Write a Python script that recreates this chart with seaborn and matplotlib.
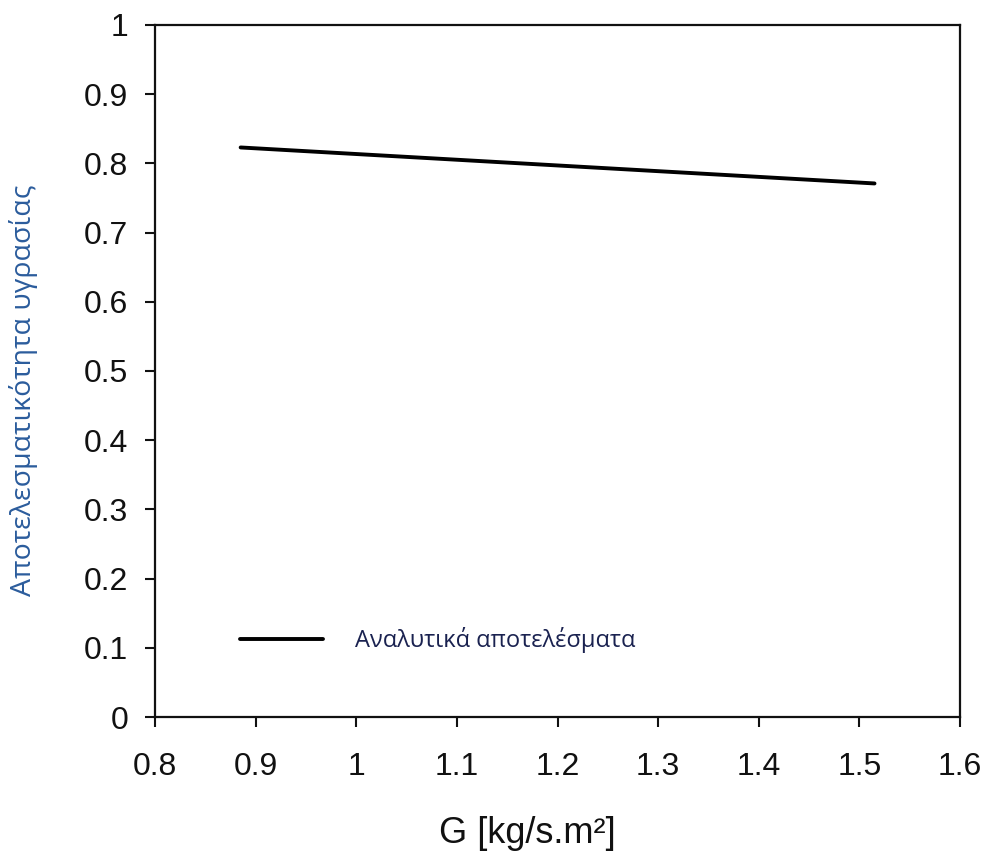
import matplotlib
matplotlib.use("Agg")
import matplotlib.pyplot as plt
import seaborn as sns
import pandas as pd

# Data
G_values = [0.885, 1.515]
efficiency = [0.823, 0.771]
series_label = "Αναλυτικά αποτελέσματα"
x_ticks = [0.8, 0.9, 1.0, 1.1, 1.2, 1.3, 1.4, 1.5, 1.6]
x_tick_labels = ["0.8", "0.9", "1", "1.1", "1.2", "1.3", "1.4", "1.5", "1.6"]
y_ticks = [0, 0.1, 0.2, 0.3, 0.4, 0.5, 0.6, 0.7, 0.8, 0.9, 1.0]
y_tick_labels = ["0", "0.1", "0.2", "0.3", "0.4", "0.5", "0.6", "0.7", "0.8", "0.9", "1"]

df = pd.DataFrame({"G": G_values, "eff": efficiency, "series": series_label})

sns.set_theme(style="ticks")
plt.rcParams["font.family"] = ["Liberation Sans", "DejaVu Sans"]

fig = plt.figure(figsize=(9.88, 8.58), dpi=100)
ax = fig.add_axes([0.157, 0.1643, 0.8147, 0.8066])

sns.lineplot(data=df, x="G", y="eff", hue="series", palette=["black"],
             linewidth=2.8, ax=ax)

ax.set_xlim(0.8, 1.6)
ax.set_ylim(0, 1)
ax.set_xticks(x_ticks)
ax.set_xticklabels(x_tick_labels)
ax.set_yticks(y_ticks)
ax.set_yticklabels(y_tick_labels)
ax.tick_params(axis="both", labelsize=23, length=7.5, width=1.5, color="#111111",
               labelcolor="#111111", direction="out")
ax.tick_params(axis="x", pad=17.5)
ax.tick_params(axis="y", pad=12)
for s in ax.spines.values():
    s.set_linewidth(1.6)
    s.set_color("#111111")

ax.set_xlabel("G [kg/s.m²]", fontsize=26, color="#111111")
ax.xaxis.set_label_coords(0.463, -0.143)
ax.set_ylabel("Αποτελεσματικότητα υγρασίας", fontsize=20.5, color="#2b5c9c",
              family=["Open Sans", "DejaVu Sans"])
ax.yaxis.set_label_coords(-0.146, 0.4725)

leg = ax.legend(loc="center left", bbox_to_anchor=(0.1056, 0.111),
                frameon=False, borderaxespad=0, borderpad=0,
                handlelength=3.5, handletextpad=1.35,
                prop={"family": ["Open Sans", "DejaVu Sans"], "size": 17},
                labelcolor="#1a2250")

fig.savefig("out.png", dpi=100)
